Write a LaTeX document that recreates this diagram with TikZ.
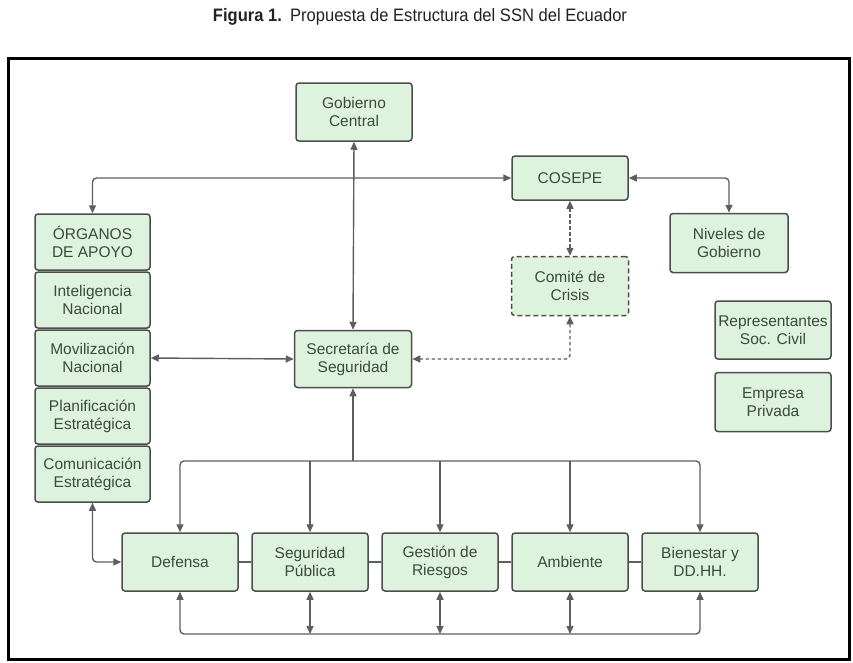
\documentclass[tikz,border=0pt]{standalone}
\usepackage{fontspec}
\setmainfont{Liberation Sans}
\newfontfamily\titlefont{Liberation Sans}[FakeStretch=0.92]
\usetikzlibrary{arrows.meta}
\definecolor{boxfill}{HTML}{DDF3DD}
\definecolor{boxline}{HTML}{4D4D4D}
\definecolor{boxtext}{HTML}{3D4A3D}
\definecolor{linkc}{HTML}{5E5E5E}
\definecolor{titlec}{HTML}{222222}
\begin{document}
\begin{tikzpicture}[x=1pt,y=-1pt,
  box/.style={draw=boxline, fill=boxfill, line width=1.5pt, rounded corners=3pt,
    minimum width=116pt, minimum height=58pt, inner sep=0pt, align=center,
    text=boxtext, font=\fontsize{15.5}{18}\selectfont},
  colbox/.style={box, minimum width=115pt, minimum height=56pt},
  link/.style={draw=linkc, line width=1.4pt, rounded corners=4pt},
  arrb/.style={{Triangle[length=8pt,width=7pt]}-{Triangle[length=8pt,width=7pt]}},
  arre/.style={-{Triangle[length=8pt,width=7pt]}},
  dlink/.style={link, dash pattern=on 3.5pt off 2.5pt}
]
\useasboundingbox (0,0) rectangle (853,662);
% title
\node[text=titlec, inner sep=0pt] (title) at (420,17)
  {\titlefont\fontsize{18}{20}\selectfont\bfseries Figura 1.\hspace{0.45em}\mdseries Propuesta de Estructura del SSN del Ecuador};
% frame
\draw[line width=3pt] (8,58) rectangle (849,659);

% top nodes
\node[box] (gob) at (354,112) {Gobierno\\Central};
\node[box, minimum height=44pt] (cos) at (570,178) {COSEPE};
\node[box, minimum width=118pt, minimum height=59pt] (niv) at (729,243) {Niveles de\\Gobierno};
\node[box, dash pattern=on 5pt off 3pt, minimum width=117pt, minimum height=59pt] (crs) at (570,286) {Comit\'e de\\Crisis};
\node[box] (rep) at (773,330) {Representantes\\Soc. Civil};
\node[box, minimum height=59pt] (emp) at (773,402) {Empresa\\Privada};
\node[box, minimum width=117pt, minimum height=57pt] (sec) at (353,359) {Secretar\'ia de\\Seguridad};

% left column
\node[colbox] (org) at (92.5,242) {ÓRGANOS\\DE APOYO};
\node[colbox] (int) at (92.5,300) {Inteligencia\\Nacional};
\node[colbox] (mov) at (92.5,358) {Movilizaci\'on\\Nacional};
\node[colbox] (pla) at (92.5,416) {Planificaci\'on\\Estrat\'egica};
\node[colbox] (cmu) at (92.5,474) {Comunicaci\'on\\Estrat\'egica};

% bottom row
\node[box] (def) at (180,562) {Defensa};
\node[box] (seg) at (310,562) {Seguridad\\P\'ublica};
\node[box] (ges) at (440,562) {Gesti\'on de\\Riesgos};
\node[box] (amb) at (570,562) {Ambiente};
\node[box] (bie) at (700,562) {Bienestar y\\DD.HH.};

\coordinate (br) at (353,461);
\coordinate (bl) at (440,634);

% connectors
\draw[link, arrb] (gob.south) -- (sec.north);
\draw[link, arrb] (org.north) |- (cos.west);
\draw[link, arrb] (cos.east) -| (niv.north);
\draw[dlink, arrb] (cos.south) -- (crs.north);
\draw[dlink, arrb] (crs.south) |- (sec.east);
\draw[link, arrb] (mov.east) -- (sec.west);

\draw[link, arre] (br) -- (sec.south);
\draw[link, arrb] (def.north) |- (br) -| (bie.north);
\draw[link, arre] (seg.north |- br) -- (seg.north);
\draw[link, arre] (ges.north |- br) -- (ges.north);
\draw[link, arre] (amb.north |- br) -- (amb.north);

\draw[link, arrb] (def.south) |- (bl) -| (bie.south);
\draw[link, arrb] (seg.south) -- (seg.south |- bl);
\draw[link, arrb] (ges.south) -- (ges.south |- bl);
\draw[link, arrb] (amb.south) -- (amb.south |- bl);

\draw[link] (def.east) -- (seg.west);
\draw[link] (seg.east) -- (ges.west);
\draw[link] (ges.east) -- (amb.west);
\draw[link] (amb.east) -- (bie.west);

\draw[link, arrb] (cmu.south) |- (def.west);
\end{tikzpicture}
\end{document}
